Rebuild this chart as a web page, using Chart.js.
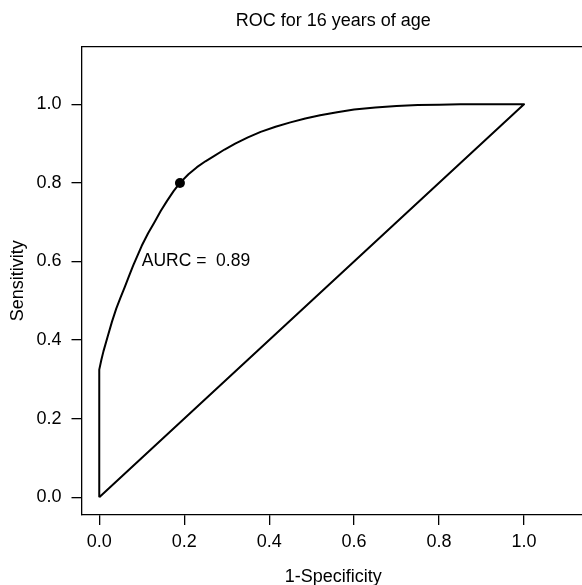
<!DOCTYPE html>
<html>
<head>
<meta charset="utf-8">
<script src="https://cdn.jsdelivr.net/npm/chart.js@4/dist/chart.umd.min.js"></script>
<style>
  html, body { margin: 0; padding: 0; background: #fff; overflow: hidden; }
  #wrap { width: 590px; height: 585px; }
</style>
</head>
<body>
<div id="wrap"><canvas id="roc" width="590" height="585"></canvas></div>
<script>
// ROC curve: (1-specificity, sensitivity)
const fpr = [0, 0, 0.005, 0.01, 0.02, 0.03, 0.04, 0.05, 0.06, 0.07, 0.08, 0.09, 0.10, 0.115, 0.13, 0.145, 0.16, 0.175, 0.19, 0.21, 0.23, 0.25, 0.27, 0.295, 0.32, 0.35, 0.38, 0.415, 0.45, 0.485, 0.52, 0.56, 0.60, 0.65, 0.70, 0.75, 0.80, 0.85, 0.90, 0.95, 1.0];
const tpr = [0, 0.325, 0.35, 0.372, 0.41, 0.447, 0.48, 0.508, 0.535, 0.563, 0.59, 0.615, 0.64, 0.672, 0.70, 0.729, 0.755, 0.779, 0.80, 0.822, 0.84, 0.855, 0.868, 0.885, 0.90, 0.916, 0.93, 0.943, 0.954, 0.964, 0.972, 0.98, 0.987, 0.992, 0.996, 0.998, 0.999, 1.0, 1.0, 1.0, 1.0];
// chance diagonal, drawn back from (1,1) to (0,0)
const diagX = [1.0, 0];
const diagY = [1.0, 0];
// chosen cut-off
const cutX = [0.19];
const cutY = [0.80];
const xTicks = [0, 0.2, 0.4, 0.6, 0.8, 1.0];
const yTicks = [0, 0.2, 0.4, 0.6, 0.8, 1.0];
const aurcText = "AURC =  0.89";
const aurcAt = [0.1, 0.6];

const FONT = "'Liberation Sans', Arial, Helvetica, sans-serif";

const curve = fpr.map((x, i) => ({ x, y: tpr[i] }))
  .concat(diagX.map((x, i) => ({ x, y: diagY[i] })));
const cut = cutX.map((x, i) => ({ x, y: cutY[i] }));

const aurcLabel = {
  id: "aurcLabel",
  afterDatasetsDraw(chart) {
    const { ctx, scales } = chart;
    ctx.save();
    ctx.font = "17.5px " + FONT;
    ctx.fillStyle = "#000";
    ctx.textAlign = "left";
    ctx.textBaseline = "middle";
    ctx.fillText(aurcText, scales.x.getPixelForValue(aurcAt[0]), scales.y.getPixelForValue(aurcAt[1]));
    ctx.restore();
  }
};

const tickStyle = {
  display: true,
  drawOnChartArea: false,
  drawTicks: true,
  tickLength: 10,
  color: "#000",
  lineWidth: 1.3
};

new Chart(document.getElementById("roc"), {
  type: "scatter",
  data: {
    datasets: [
      {
        data: curve,
        showLine: true,
        borderColor: "#000",
        borderWidth: 2,
        borderJoinStyle: "round",
        pointRadius: 0,
        tension: 0,
        fill: false
      },
      {
        data: cut,
        pointRadius: 5,
        pointBackgroundColor: "#000",
        pointBorderColor: "#000",
        borderWidth: 0
      }
    ]
  },
  options: {
    responsive: false,
    animation: false,
    devicePixelRatio: 1,
    layout: { padding: { left: 0, right: 3.5, top: 0, bottom: 0 } },
    plugins: { legend: { display: false }, tooltip: { enabled: false } },
    scales: {
      x: {
        type: "linear",
        position: "bottom",
        min: -0.0418,
        max: 1.1436,
        afterBuildTicks: s => { s.ticks = xTicks.map(v => ({ value: v })); },
        afterFit: s => { s.height = 70; },
        ticks: {
          color: "#000",
          font: { family: FONT, size: 18 },
          padding: 6,
          maxRotation: 0,
          callback: v => Number(v).toFixed(1)
        },
        grid: tickStyle,
        border: { display: true, color: "#000", width: 1.3 },
        title: {
          display: true,
          text: "1-Specificity",
          color: "#000",
          font: { family: FONT, size: 18, lineHeight: 1 },
          padding: { top: 0, bottom: -1 }
        }
      },
      top: {
        type: "linear",
        position: "top",
        min: -0.0418,
        max: 1.1436,
        afterFit: s => { s.height = 46.7; },
        ticks: { display: false },
        grid: { display: false },
        border: { display: true, color: "#000", width: 1.3 },
        title: {
          display: true,
          text: "ROC for 16 years of age",
          color: "#000",
          font: { family: FONT, size: 18 },
          padding: { top: 10.5, bottom: 0 }
        }
      },
      y: {
        type: "linear",
        position: "left",
        min: -0.045,
        max: 1.1466,
        afterBuildTicks: s => { s.ticks = yTicks.map(v => ({ value: v })); },
        afterFit: s => { s.width = 81.5; },
        ticks: {
          color: "#000",
          font: { family: FONT, size: 18 },
          padding: 10,
          callback: v => Number(v).toFixed(1)
        },
        grid: tickStyle,
        border: { display: true, color: "#000", width: 1.3 },
        title: {
          display: true,
          text: "Sensitivity",
          color: "#000",
          font: { family: FONT, size: 18 },
          padding: { top: 7.5, bottom: 0 }
        }
      }
    }
  },
  plugins: [aurcLabel]
});
</script>
</body>
</html>
